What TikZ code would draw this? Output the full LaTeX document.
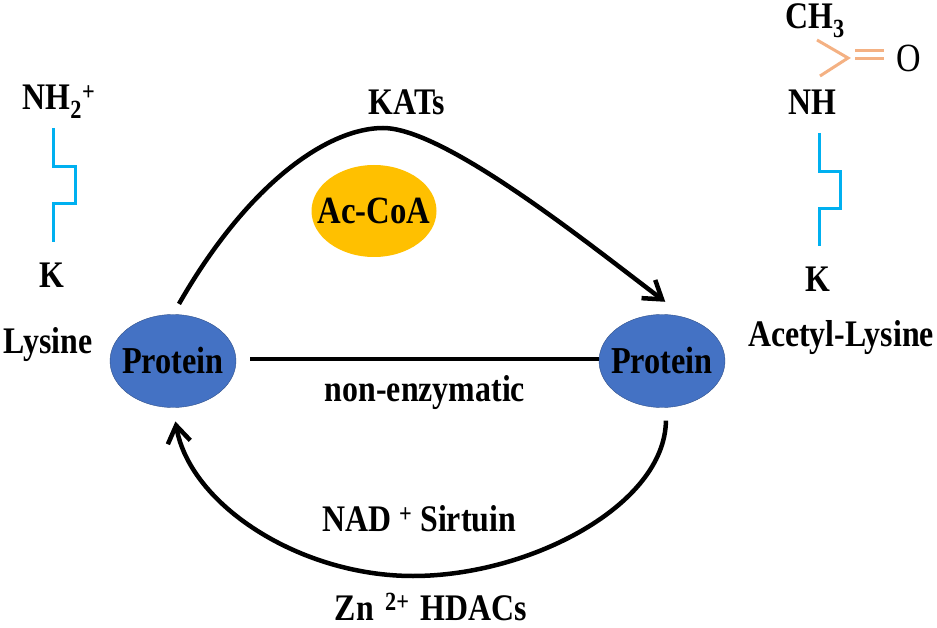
\documentclass[tikz,border=0pt]{standalone}
\usepackage{fontspec}
\setmainfont[FakeStretch=0.85]{Liberation Serif}
\usetikzlibrary{shapes.geometric,arrows.meta}
\definecolor{ProteinBlue}{HTML}{4472C4}
\definecolor{AcOrange}{HTML}{FFC000}
\definecolor{ChainBlue}{HTML}{00B0F0}
\definecolor{BondPeach}{HTML}{F4B183}

\begin{document}
\begin{tikzpicture}[x=1pt,y=-1pt,
        ProteinStyle/.style = {ellipse, fill = ProteinBlue, draw = ProteinBlue!70!black, minimum width = 126pt, minimum height = 93pt, inner ysep = 0pt, inner xsep = -9pt, font = \bfseries\fontsize{38}{38}\selectfont},
        LabelStyle/.style = {inner sep = 0pt, font = \bfseries\fontsize{37.5}{37.5}\selectfont},
        ArcStyle/.style = {line width = 4.5pt, -{Straight Barb[length=6mm,width=8mm]}},
        ChainStyle/.style = {line width = 3pt, draw = ChainBlue},
        BondStyle/.style = {line width = 3pt, draw = BondPeach}]
    \useasboundingbox (0,0) rectangle (937,628);
    \node[ProteinStyle] (P1) at (173,361) {Protein};
    \node[ProteinStyle] (P2) at (662,361) {Protein};
    \node[ellipse, fill = AcOrange, minimum width = 125pt, minimum height = 92pt, inner ysep = 0pt, inner xsep = -16pt, font = \bfseries\fontsize{38.5}{38.5}\selectfont] (AC) at (374,211) {Ac-CoA};
    \node[LabelStyle] (KATs) at (407,102) {KATs};
    \node[LabelStyle] (Non) at (425,393) {non-enzymatic};
    \node[LabelStyle] (NAD) at (419,519) {NAD \textsuperscript{+} Sirtuin};
    \node[LabelStyle, anchor = base] (Zn) at (431,620) {Zn\hspace{0.3em}\textsuperscript{2+}\hspace{0.3em}HDACs};
    \node[LabelStyle] (Lys) at (48,345) {Lysine};
    \node[LabelStyle] (ALys) at (841,338) {Acetyl-Lysine};
    \node[LabelStyle] (NHa) at (59,102) {NH\textsubscript{2}\textsuperscript{+}};
    \node[LabelStyle] (Ka) at (52,275) {K};
    \node[LabelStyle] (Kb) at (818,279) {K};
    \node[LabelStyle] (NHb) at (812,102) {NH};
    \node[LabelStyle, anchor = base] (CH) at (815,29) {CH\textsubscript{3}};
    \node[inner sep = 0pt, font = \fontsize{40}{40}\selectfont] (O) at (909,58) {O};
    \coordinate (KTop) at (383,128);
    \coordinate (ZBot) at (413,576);
    \draw[ArcStyle, shorten <=12pt, shorten >=27pt] (P1.north) .. controls (250,180) and (330,128) .. (KTop) .. controls (445,128) and (590,245) .. (P2.60);
    \draw[ArcStyle, shorten <=13pt, shorten >=14pt] (P2.-85) .. controls (665,505) and (530,576) .. (ZBot) .. controls (300,576) and (190,505) .. (P1.south);
    \draw[line width = 4.5pt, shorten <=14pt] ([yshift=2pt]P1.east) -- ([yshift=2pt]P2.west);
    \draw[ChainStyle] (53,128) -- (53,167) -- (75,167) -- (75,204) -- (53,204) -- (53,242);
    \draw[ChainStyle] (819,133) -- (819,172) -- (840,172) -- (840,209) -- (819,209) -- (819,246);
    \draw[BondStyle] (817,40) -- (848,58) -- (820,76);
    \draw[BondStyle] (855,51) -- (884,51) (855,59) -- (884,59);
\end{tikzpicture}
\end{document}
